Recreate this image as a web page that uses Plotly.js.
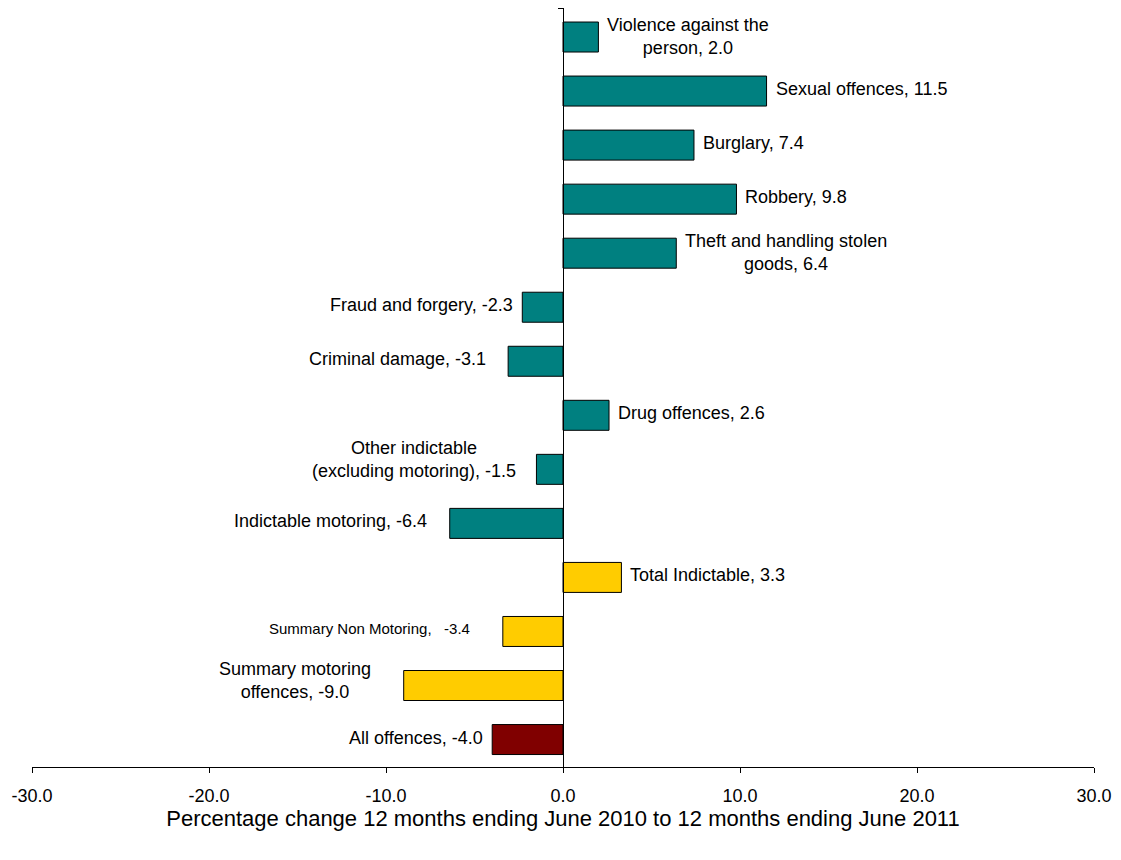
<!DOCTYPE html>
<html>
<head>
<meta charset="utf-8">
<script src="https://cdn.plot.ly/plotly-3.0.1.min.js"></script>
<style>html,body{margin:0;padding:0;background:#fff;}#chart{width:1121px;height:860px;}</style>
</head>
<body>
<div id="chart"></div>
<script>
const categories = [
  "Violence against the person",
  "Sexual offences",
  "Burglary",
  "Robbery",
  "Theft and handling stolen goods",
  "Fraud and forgery",
  "Criminal damage",
  "Drug offences",
  "Other indictable (excluding motoring)",
  "Indictable motoring",
  "Total Indictable",
  "Summary Non Motoring",
  "Summary motoring offences",
  "All offences"
];
const labelText = [
  "Violence against the<br>person",
  "Sexual offences",
  "Burglary",
  "Robbery",
  "Theft and handling stolen<br>goods",
  "Fraud and forgery",
  "Criminal damage",
  "Drug offences",
  "Other indictable<br>(excluding motoring)",
  "Indictable motoring",
  "Total Indictable",
  "Summary Non Motoring",
  "Summary motoring<br>offences",
  "All offences"
];
const values = [2.0, 11.5, 7.4, 9.8, 6.4, -2.3, -3.1, 2.6, -1.5, -6.4, 3.3, -3.4, -9.0, -4.0];
const groups = ["indictable","indictable","indictable","indictable","indictable","indictable","indictable","indictable","indictable","indictable","total","summary","summary","all"];
const xTicks = [-30, -20, -10, 0, 10, 20, 30];

// ---- styling (not data) ----
const groupColor = {indictable: "#008080", total: "#FFCC00", summary: "#FFCC00", all: "#800000"};
const FONT = "Liberation Sans, Arial, sans-serif";
// label gap from bar end (px) and vertical nudge (px), as placed in the original
const labelStyle = {
  "Violence against the person": {gap: 7, dy: 1},
  "Theft and handling stolen goods": {gap: 7, dy: 1},
  "Criminal damage": {gap: 20, dy: 2},
  "Other indictable (excluding motoring)": {gap: 18, dy: 10},
  "Indictable motoring": {gap: 21, dy: 2},
  "Summary Non Motoring": {gap: 31, dy: 3, size: 15, sep: ",\u00a0\u00a0\u00a0"},
  "Summary motoring offences": {gap: 31, dy: 5}
};

const trace = {
  type: "bar",
  orientation: "h",
  y: categories,
  x: values,
  width: 0.555,
  marker: {color: groups.map(g => groupColor[g]), line: {color: "#000", width: 1}},
  hoverinfo: "skip",
  showlegend: false
};

const annotations = categories.map((c, i) => {
  const v = values[i];
  const st = Object.assign({gap: 7, dy: 2, size: 18, sep: ", "}, labelStyle[c] || {});
  return {
    x: v, y: c, xref: "x", yref: "y",
    text: labelText[i] + st.sep + v.toFixed(1),
    showarrow: false,
    xanchor: v >= 0 ? "left" : "right",
    yanchor: "middle",
    align: "center",
    xshift: v >= 0 ? st.gap : -st.gap,
    yshift: st.dy,
    font: {family: FONT, size: st.size, color: "#000"}
  };
});

const layout = {
  width: 1121, height: 860,
  margin: {l: 32, r: 27, t: 8, b: 93},
  paper_bgcolor: "#fff", plot_bgcolor: "#fff",
  font: {family: FONT, size: 18, color: "#000"},
  xaxis: {
    range: [-30, 30],
    tickvals: xTicks,
    ticktext: xTicks.map(t => t.toFixed(1)),
    showgrid: false,
    zeroline: true, zerolinecolor: "#000", zerolinewidth: 1,
    showline: true, linecolor: "#000", linewidth: 1,
    ticks: "outside", ticklen: 5, tickcolor: "#000",
    ticklabelstandoff: 7,
    tickfont: {size: 18},
    title: {text: "Percentage change 12 months ending June 2010 to 12 months ending June 2011", font: {size: 22}, standoff: 4}
  },
  yaxis: {
    type: "category",
    categoryorder: "array", categoryarray: categories,
    range: [13.508, -0.537],
    anchor: "free", position: 0.5,
    showline: true, linecolor: "#000", linewidth: 1,
    tickmode: "array", tickvals: [-0.537], ticktext: [""],
    ticks: "outside", ticklen: 5, tickcolor: "#000",
    showticklabels: false, showgrid: false, zeroline: false
  },
  annotations: annotations
};

Plotly.newPlot("chart", [trace], layout, {staticPlot: true, displayModeBar: false});
</script>
</body>
</html>
